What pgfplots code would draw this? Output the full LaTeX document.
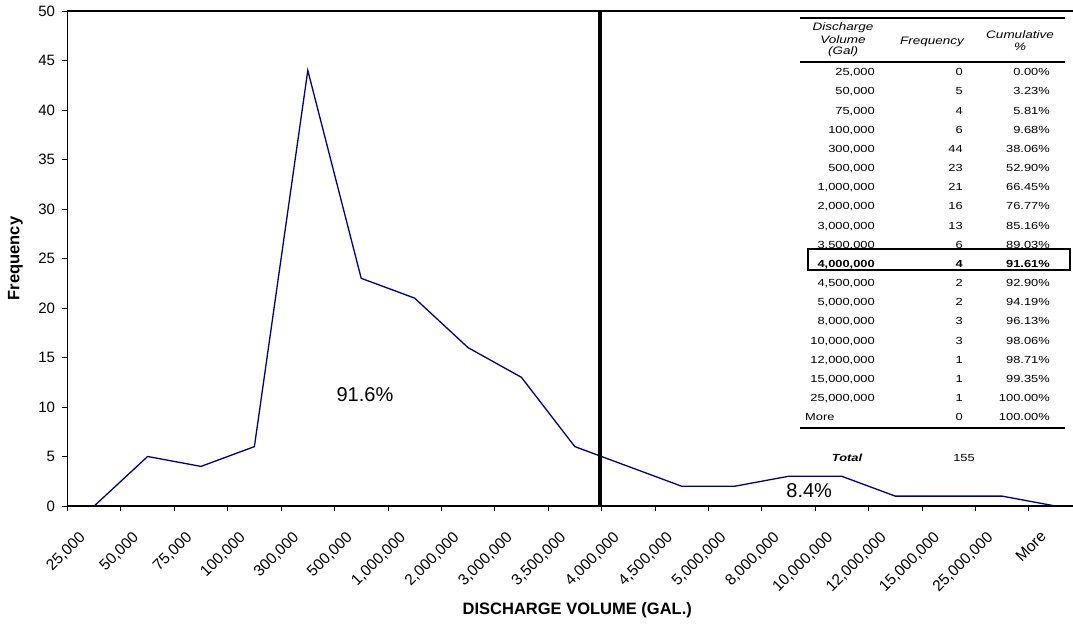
\documentclass[border=0pt]{standalone}
\usepackage{fontspec}
\setmainfont{Liberation Sans}
\newfontfamily\tabfont[FakeStretch=1.25]{Liberation Sans}
\usepackage{pgfplots}
\pgfplotsset{compat=1.18}
\definecolor{navyline}{RGB}{0,0,128}
\newcommand{\tf}{\tabfont\fontsize{10.3}{12}\selectfont}
\newcommand{\thd}{\tabfont\fontsize{10.8}{12}\selectfont\itshape}
\begin{document}
\begin{tikzpicture}[x=1pt,y=1pt]
\path[use as bounding box] (-67.5,-120) rectangle (1005.5,506);
\begin{axis}[
  at={(0,0)}, anchor=south west, scale only axis,
  width=1005.5pt, height=495pt,
  xmin=-0.5, xmax=18.33, ymin=0, ymax=50,
  axis y line*=left,
  axis line style={line width=1.3pt, black},
  tick align=outside,
  major tick length=5pt,
  tick style={black, line width=0.8pt},
  xtick pos=bottom, ytick pos=left,
  xtick={-0.5,0.5,...,17.5},
  xticklabels={},
  extra x ticks={0,1,...,18},
  extra x tick labels={{25,000},{50,000},{75,000},{100,000},{300,000},{500,000},{1,000,000},{2,000,000},{3,000,000},{3,500,000},{4,000,000},{4,500,000},{5,000,000},{8,000,000},{10,000,000},{12,000,000},{15,000,000},{25,000,000},{More}},
  extra x tick style={major tick length=0pt,
    xticklabel style={xshift=-16pt, yshift=-24pt, rotate=45, anchor=north east, inner sep=0pt, font=\fontsize{15.5}{17}\selectfont}},
  ytick={0,5,...,50},
  yticklabel style={font=\fontsize{15}{17}\selectfont, xshift=-4pt},
  /pgf/number format/assume math mode=true,
  xlabel={DISCHARGE VOLUME (GAL.)},
  xlabel style={at={(axis description cs:0.507,-0.21)}, anchor=center, font=\bfseries\fontsize{16.5}{18}\selectfont},
  ylabel={Frequency},
  ylabel style={at={(axis description cs:-0.0517,0.5)}, anchor=center, font=\bfseries\fontsize{16.5}{18}\selectfont},
  clip=false,
]
\addplot[navyline, line width=1.3pt] coordinates {
  (0,0) (1,5) (2,4) (3,6) (4,44) (5,23) (6,21) (7,16) (8,13) (9,6)
  (10,4) (11,2) (12,2) (13,3) (14,3) (15,1) (16,1) (17,1) (18,0)};
\addplot[black, line width=4pt] coordinates {(9.47,0) (9.47,50)};
\node[font=\fontsize{20}{22}\selectfont] at (axis cs:5.07,11.3) {91.6\%};
\node[font=\fontsize{20}{22}\selectfont] at (axis cs:13.39,1.6) {8.4\%};
\end{axis}
% data table (text)
\draw[line width=1.8pt] (732.5,488) -- (997.5,488);
\draw[line width=1.8pt] (732.5,444) -- (997.5,444);
\draw[line width=1.5pt] (732.5,78) -- (997.5,78);
\begin{scope}[every node/.style={inner sep=0pt, font=\tf}]
\node[font=\thd] at (775.5,478) {Discharge};
\node[font=\thd] at (775.5,466) {Volume};
\node[font=\thd] at (775.5,454) {(Gal)};
\node[font=\thd] at (864.5,464) {Frequency};
\node[font=\thd] at (952.5,471) {Cumulative};
\node[font=\thd] at (952.5,459) {\%};
\foreach \v/\f/\c [count=\i from 0] in {
  25{,}000/0/0.00\%, 50{,}000/5/3.23\%, 75{,}000/4/5.81\%, 100{,}000/6/9.68\%,
  300{,}000/44/38.06\%, 500{,}000/23/52.90\%, 1{,}000{,}000/21/66.45\%,
  2{,}000{,}000/16/76.77\%, 3{,}000{,}000/13/85.16\%, 3{,}500{,}000/6/89.03\%,
  4{,}000{,}000/4/91.61\%, 4{,}500{,}000/2/92.90\%, 5{,}000{,}000/2/94.19\%,
  8{,}000{,}000/3/96.13\%, 10{,}000{,}000/3/98.06\%, 12{,}000{,}000/1/98.71\%,
  15{,}000{,}000/1/99.35\%, 25{,}000{,}000/1/100.00\%, More/0/100.00\%} {
  \pgfmathsetmacro{\yy}{434-19.17*\i}
  \ifnum\i=10
    \node[anchor=base east, font=\tf\bfseries] at (807.5,\yy-3.7) {\v};
    \node[anchor=base east, font=\tf\bfseries] at (895.5,\yy-3.7) {\f};
    \node[anchor=base east, font=\tf\bfseries] at (982.5,\yy-3.7) {\c};
  \else
    \ifnum\i=18
      \node[anchor=base west] at (737.5,\yy-3.7) {\v};
    \else
      \node[anchor=base east] at (807.5,\yy-3.7) {\v};
    \fi
    \node[anchor=base east] at (895.5,\yy-3.7) {\f};
    \node[anchor=base east] at (982.5,\yy-3.7) {\c};
  \fi
}
\node[font=\tf\bfseries\itshape] at (779.5,48) {Total};
\node[anchor=east] at (907.5,48) {155};
\end{scope}
\draw[line width=2.5pt] (740.5,236) rectangle (1002.5,257);
\end{tikzpicture}
\end{document}
